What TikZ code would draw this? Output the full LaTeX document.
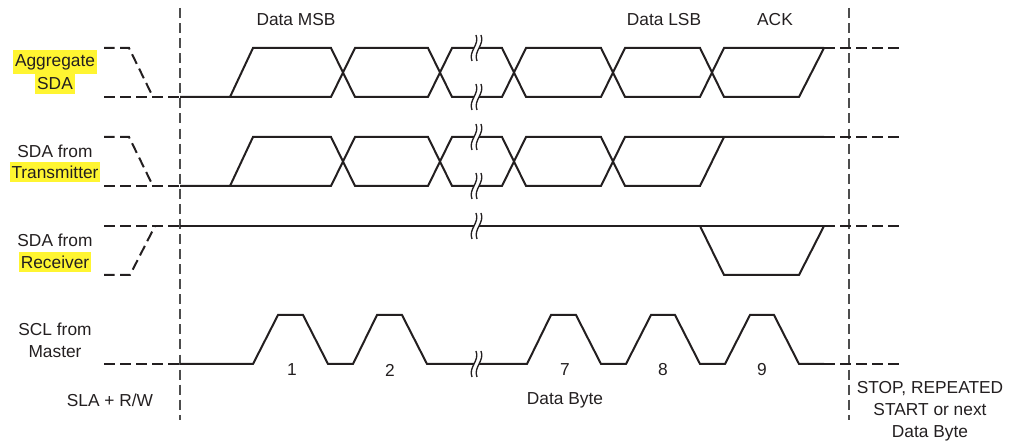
\documentclass[tikz,border=0pt]{standalone}
\usepackage{fontspec}
\setmainfont{Liberation Sans}
\usepackage{xcolor}
\usepackage{tikz}
\usetikzlibrary{calc,positioning}
\definecolor{inkc}{HTML}{231F20}
\definecolor{gridc}{HTML}{4D4D4D}
\definecolor{hlc}{HTML}{FFF531}
\tikzset{
  wave/.style={line width=1.5pt,inkc,line join=miter},
  idle/.style={line width=1.5pt,inkc,dash pattern=on 8pt off 4pt},
  breakline/.style={line width=1pt,inkc},
  sep/.style={line width=0.8pt,gridc,dash pattern=on 7.5pt off 3.8pt},
  lbl/.style={font=\fontsize{13}{16.5}\selectfont,text=inkc,inner sep=1pt,align=center},
  hl/.style={lbl,fill=hlc,inner xsep=1.5pt,inner ysep=3pt}
}
\begin{document}
\begin{tikzpicture}[x=0.75pt,y=-0.75pt]
\useasboundingbox (0,0) rectangle (1011,448);
% frame separators
\draw[sep] (180,8)--(180,420);
\draw[sep] (849,8)--(849,420);
% idle parts, left
\draw[idle] (104,48)--(129,48)--(153,97);
\draw[idle] (104,97)--(180,97);
\draw[idle] (104,137)--(129,137)--(153,186);
\draw[idle] (104,186)--(180,186);
\draw[idle] (104,275)--(130,275)--(155,226);
\draw[idle] (104,226)--(180,226);
\draw[idle] (104,364)--(180,364);
% idle parts, right
\foreach \y in {48,137,226,364}
  \draw[idle] (824,\y)--(900,\y);
% aggregate SDA
\draw[wave] (180,97)--(331,97)--(355,48)--(428,48)--(452,97)--(502,97)--(526,48)--(601,48)--(625,97)--(700,97)--(724,48)--(824,48);
\draw[wave] (230,97)--(253,48)--(331,48)--(355,97)--(428,97)--(452,48)--(502,48)--(526,97)--(601,97)--(625,48)--(700,48)--(724,97)--(799,97)--(824,48);
% SDA from transmitter
\draw[wave] (180,186)--(331,186)--(355,137)--(428,137)--(452,186)--(502,186)--(526,137)--(601,137)--(625,186)--(700,186)--(724,137);
\draw[wave] (230,186)--(253,137)--(331,137)--(355,186)--(428,186)--(452,137)--(502,137)--(526,186)--(601,186)--(625,137)--(824,137);
% SDA from receiver
\draw[wave] (180,226)--(824,226);
\draw[wave] (700,226)--(724,275)--(799,275)--(824,226);
% SCL
\draw[wave] (180,364)--(253,364)--(278,315)--(303,315)--(328,364)--(353,364)--(377,315)--(402,315)--(427,364)
  --(527,364)--(551,315)--(576,315)--(601,364)--(626,364)--(651,315)--(675,315)--(700,364)--(725,364)
  --(750,315)--(774,315)--(799,364)--(824,364);
% breaks
\foreach \y in {48,97,137,186,226,364} {
  \fill[white] (472,\y+13) .. controls (468,\y+3) and (480,\y-3) .. (476,\y-13)
    -- (481,\y-13) .. controls (485,\y-3) and (473,\y+3) .. (477,\y+13) -- cycle;
  \draw[breakline] (472,\y+13) .. controls (468,\y+3) and (480,\y-3) .. (476,\y-13);
  \draw[breakline] (477,\y+13) .. controls (473,\y+3) and (485,\y-3) .. (481,\y-13);
}
% labels
\node[lbl] (msb) at (296,20) {Data MSB};
\node[lbl] (lsb) at (664,20) {Data LSB};
\node[lbl] (ack) at (775,20) {ACK};
\node[hl] (agg1) at (55,62) {Aggregate};
\node[hl] (agg2) at (55,84) {SDA};
\node[lbl] (tx1) at (55,151) {SDA from};
\node[hl] (tx2) at (55,172) {Transmitter};
\node[lbl] (rx1) at (55,240) {SDA from};
\node[hl] (rx2) at (55,262) {Receiver};
\node[lbl] (scl) at (55,340) {SCL from\\Master};
\node[lbl] (sla) at (110,400) {SLA + R/W};
\node[lbl] (byte) at (565,400) {Data Byte};
\node[lbl] (nxt) at (930,411) {STOP, REPEATED\\START or next\\Data Byte};
\foreach \n/\x in {1/292,2/390,7/565,8/663,9/762}
  \node[lbl] (b\n) at (\x,370) {\n};
\end{tikzpicture}
\end{document}
